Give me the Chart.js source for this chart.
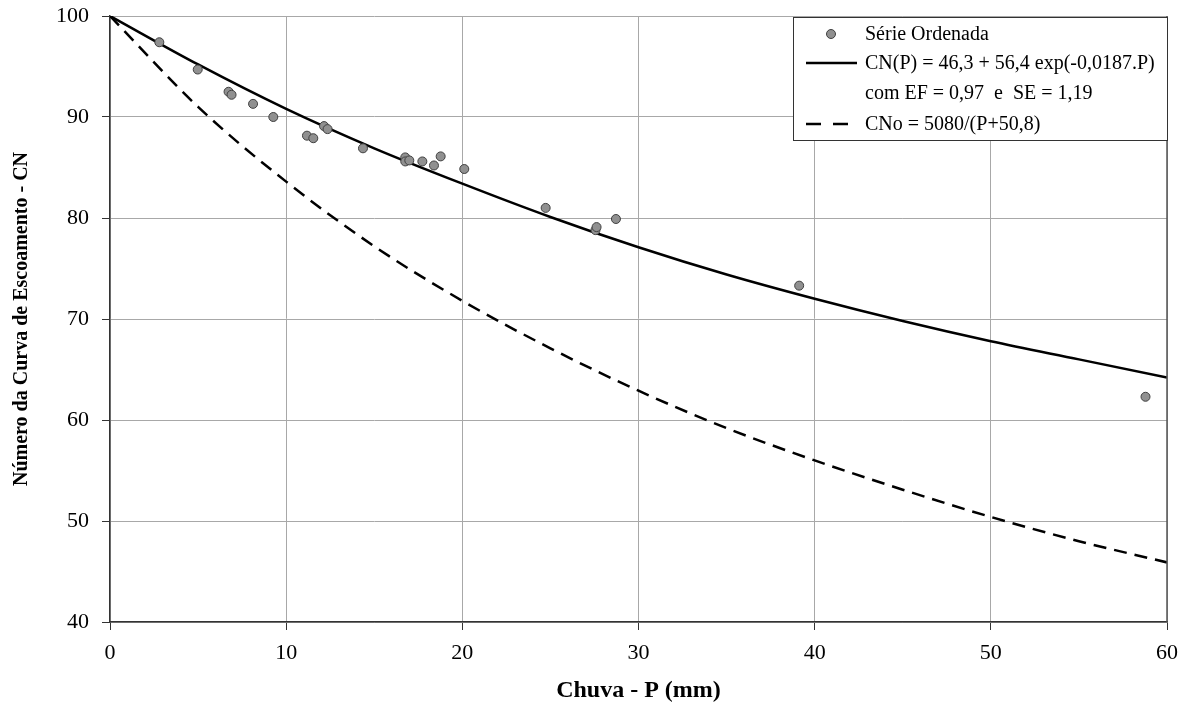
<!DOCTYPE html>
<html>
<head>
<meta charset="utf-8">
<script src="https://cdn.jsdelivr.net/npm/chart.js@4"></script>
<style>
  html, body { margin: 0; padding: 0; background: #fff; }
  #wrap { width: 1182px; height: 715px; position: relative; }
</style>
</head>
<body>
<div id="wrap"><canvas id="c" width="1182" height="715"></canvas></div>
<script>
// Observed ordered series (P in mm, CN)
const obsP  = [2.8, 4.98, 6.73, 6.9, 8.12, 9.27, 11.18, 11.54, 12.15, 12.35, 14.36, 16.76, 16.76, 16.99, 17.73, 18.39, 18.77, 20.11, 24.73, 27.56, 27.62, 28.72, 39.12, 58.78];
const obsCN = [97.4, 94.7, 92.5, 92.2, 91.3, 90.0, 88.15, 87.9, 89.1, 88.8, 86.9, 86.0, 85.6, 85.7, 85.6, 85.2, 86.1, 84.85, 81.0, 78.8, 79.1, 79.9, 73.3, 62.3];

// Curves
const curveP  = [0, 5, 10, 15, 20, 25, 30, 35, 40, 45, 50, 55, 60];
const fitCN   = [100, 95.2, 90.8, 86.9, 83.4, 80.1, 77.1, 74.4, 72.0, 69.8, 67.8, 66.0, 64.2];
const cnoCN   = [100, 91.0, 83.6, 77.2, 71.8, 67.1, 62.9, 59.2, 56.0, 53.1, 50.4, 48.0, 45.9];

const xTicks = [0, 10, 20, 30, 40, 50, 60];
const yTicks = [40, 50, 60, 70, 80, 90, 100];

const legendLabels = [
  'Série Ordenada',
  'CN(P) = 46,3 + 56,4 exp(-0,0187.P)',
  'com EF = 0,97  e  SE = 1,19',
  'CNo = 5080/(P+50,8)'
];
const xTitle = 'Chuva - P (mm)';
const yTitle = 'Número da Curva de Escoamento - CN';

const FONT = "'Liberation Serif', 'Times New Roman', serif";

const toPts = (xs, ys) => xs.map((x, i) => ({ x: x, y: ys[i] }));

const legendPlugin = {
  id: 'boxLegend',
  afterDraw(chart) {
    const ctx = chart.ctx;
    const a = chart.chartArea;
    ctx.save();
    // right plot border
    ctx.strokeStyle = '#555';
    ctx.lineWidth = 1.5;
    ctx.beginPath();
    ctx.moveTo(a.right, a.top);
    ctx.lineTo(a.right, a.bottom);
    ctx.stroke();

    const bx = 793, by = 17, bw = a.right - 793 + 1, bh = 124;
    ctx.fillStyle = '#fff';
    ctx.fillRect(bx, by, bw, bh);
    ctx.strokeStyle = '#333';
    ctx.lineWidth = 1;
    ctx.strokeRect(bx + 0.5, by + 0.5, bw - 1, bh - 1);

    const rows = [34, 63, 93, 124];
    const tx = 865;
    ctx.font = '20px ' + FONT;
    ctx.fillStyle = '#000';
    ctx.textBaseline = 'middle';
    ctx.textAlign = 'left';
    legendLabels.forEach((t, i) => ctx.fillText(t, tx, rows[i] + 1));

    // marker
    ctx.beginPath();
    ctx.arc(831, rows[0], 4.5, 0, Math.PI * 2);
    ctx.fillStyle = '#909090';
    ctx.fill();
    ctx.strokeStyle = '#404040';
    ctx.lineWidth = 1;
    ctx.stroke();

    // solid sample
    ctx.strokeStyle = '#000';
    ctx.lineWidth = 2.5;
    ctx.beginPath();
    ctx.moveTo(806, rows[1]);
    ctx.lineTo(857, rows[1]);
    ctx.stroke();

    // dashed sample
    ctx.setLineDash([15, 12]);
    ctx.beginPath();
    ctx.moveTo(806, rows[3]);
    ctx.lineTo(850, rows[3]);
    ctx.stroke();
    ctx.restore();
  }
};

new Chart(document.getElementById('c'), {
  type: 'scatter',
  data: {
    datasets: [
      {
        label: legendLabels[0],
        data: toPts(obsP, obsCN),
        pointRadius: 4.5,
        pointBackgroundColor: '#909090',
        pointBorderColor: '#404040',
        pointBorderWidth: 1,
        showLine: false
      },
      {
        label: legendLabels[1],
        data: toPts(curveP, fitCN),
        showLine: true,
        borderColor: '#000',
        borderWidth: 2.5,
        pointRadius: 0,
        cubicInterpolationMode: 'monotone',
        fill: false
      },
      {
        label: legendLabels[3],
        data: toPts(curveP, cnoCN),
        showLine: true,
        borderColor: '#000',
        borderWidth: 2.5,
        borderDash: [13, 8],
        pointRadius: 0,
        cubicInterpolationMode: 'monotone',
        fill: false
      }
    ]
  },
  options: {
    responsive: false,
    animation: false,
    layout: { padding: { left: 0, top: 16, right: 15, bottom: 0 } },
    plugins: {
      legend: { display: false },
      tooltip: { enabled: false }
    },
    scales: {
      x: {
        type: 'linear',
        min: 0, max: 60,
        afterBuildTicks: (s) => { s.ticks = xTicks.map(v => ({ value: v })); },
        afterFit: (s) => { s.height = 93; s.paddingLeft = 0; s.paddingRight = 0; },
        ticks: { color: '#000', font: { family: FONT, size: 22 }, padding: 10, maxRotation: 0 },
        grid: { color: '#a8a8a8', lineWidth: 1, tickLength: 8, tickColor: '#333', tickWidth: 1 },
        border: { color: '#333', width: 1.5 },
        title: { display: true, text: xTitle, color: '#000', font: { family: FONT, size: 24, weight: 'bold' }, padding: { top: 0, bottom: 10 } }
      },
      y: {
        type: 'linear',
        min: 40, max: 100,
        afterBuildTicks: (s) => { s.ticks = yTicks.map(v => ({ value: v })); },
        afterFit: (s) => { s.width = 110; s.paddingTop = 0; s.paddingBottom = 0; },
        ticks: { color: '#000', font: { family: FONT, size: 22 }, padding: 13 },
        grid: { color: '#a8a8a8', lineWidth: 1, tickLength: 8, tickColor: '#333', tickWidth: 1 },
        border: { color: '#333', width: 1.5 },
        title: { display: true, text: yTitle, color: '#000', font: { family: FONT, size: 20, weight: 'bold' }, padding: { top: 10, bottom: 0 } }
      }
    }
  },
  plugins: [legendPlugin]
});
</script>
</body>
</html>
